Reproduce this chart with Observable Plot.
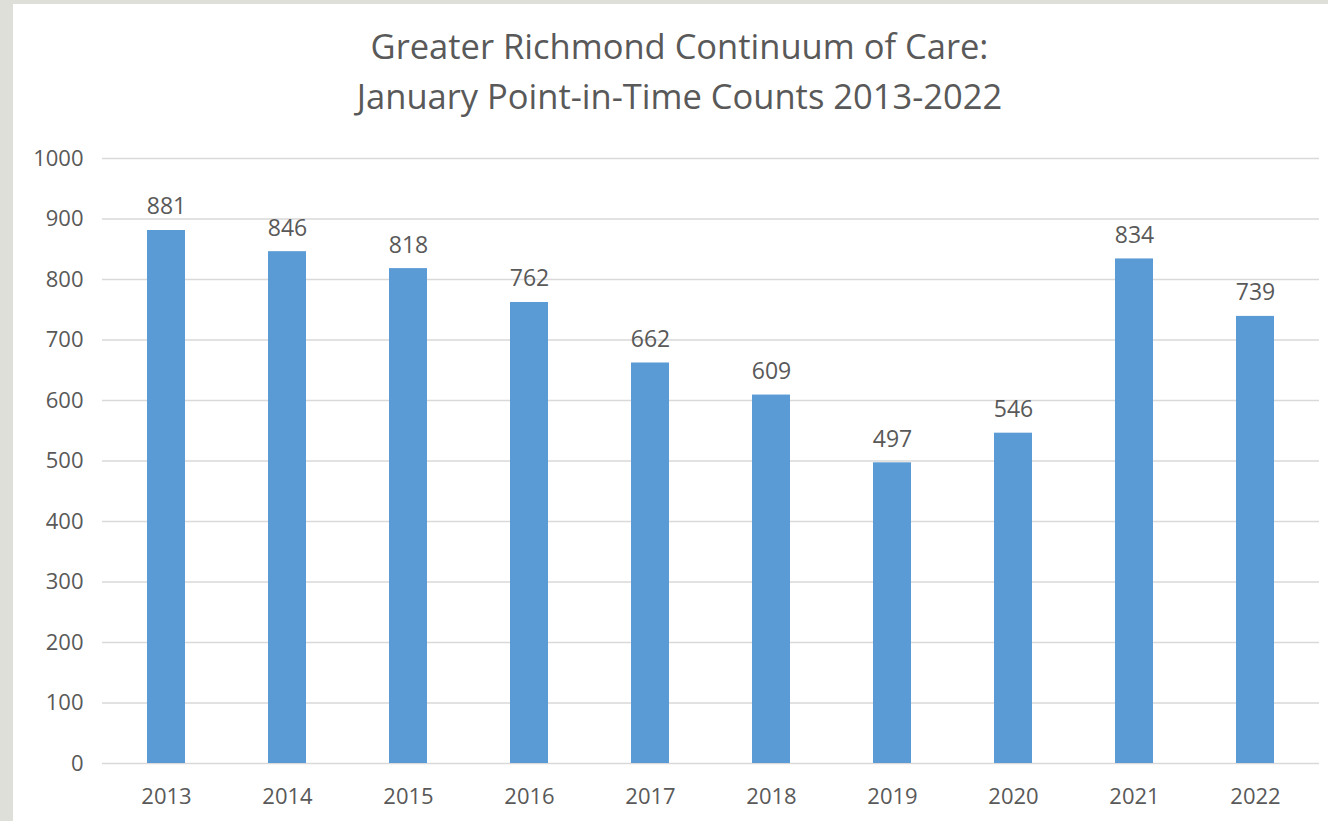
<!DOCTYPE html>
<html>
<head>
<meta charset="utf-8">
<script src="https://cdn.jsdelivr.net/npm/d3@7"></script>
<script src="https://cdn.jsdelivr.net/npm/@observablehq/plot@0.6"></script>
<style>
  html, body { margin: 0; padding: 0; width: 1328px; height: 821px; overflow: hidden; background: #dfdfd9; }
  #panel { position: absolute; left: 13px; top: 4px; width: 1315px; height: 817px; background: #ffffff; }
  #title { height: 126px; box-sizing: border-box; padding-top: 17px; padding-left: 18px; text-align: center;
           font-family: "Open Sans", sans-serif; font-size: 34.5px; line-height: 50px; color: #595959; }
  #chart svg { display: block; }
</style>
</head>
<body>
<div id="panel">
  <div id="title">Greater Richmond Continuum of Care:<br>January Point-in-Time Counts 2013-2022</div>
  <div id="chart"></div>
</div>
<script>
const years = ["2013", "2014", "2015", "2016", "2017", "2018", "2019", "2020", "2021", "2022"];
const counts = [881, 846, 818, 762, 662, 609, 497, 546, 834, 739];
const yTicks = [0, 100, 200, 300, 400, 500, 600, 700, 800, 900, 1000];

const data = years.map((y, i) => ({year: y, count: counts[i]}));

const chart = Plot.plot({
  width: 1315,
  height: 691,
  marginLeft: 89,
  marginRight: 9,
  marginTop: 28,
  marginBottom: 58,
  style: {fontFamily: "Open Sans, sans-serif", fontSize: "22px", color: "#595959", background: "transparent"},
  x: {domain: years, paddingInner: 0.685, paddingOuter: 0.3425, label: null},
  y: {domain: [0, 1000], label: null},
  marks: [
    Plot.ruleY(yTicks, {stroke: "#d9d9d9", strokeWidth: 1.6}),
    Plot.barY(data, {x: "year", y: "count", fill: "#5b9bd5"}),
    Plot.text(data, {x: "year", y: "count", text: d => String(d.count), lineAnchor: "bottom", dy: -16,
                     fill: "#595959", fontSize: 23}),
    Plot.axisX({tickSize: 0, tickPadding: 25, fontSize: 22, fill: "#595959"}),
    Plot.axisY({ticks: yTicks, tickSize: 0, tickPadding: 19, fontSize: 22, fill: "#595959", tickFormat: d => String(d)})
  ]
});
document.getElementById("chart").appendChild(chart);
</script>
</body>
</html>
